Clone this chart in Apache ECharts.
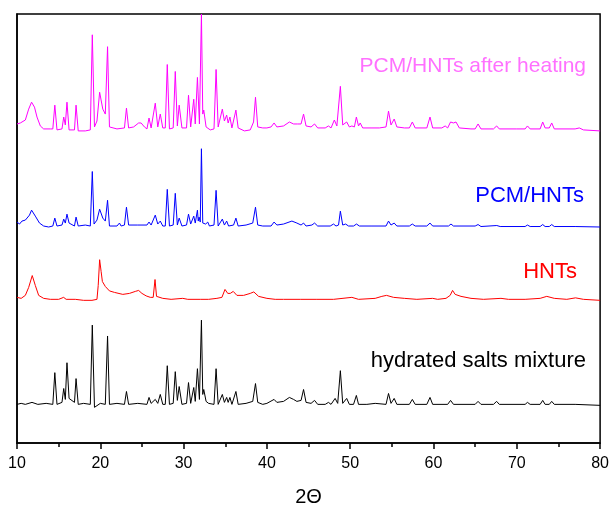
<!DOCTYPE html>
<html>
<head>
<meta charset="utf-8">
<script src="https://cdn.jsdelivr.net/npm/echarts@6/dist/echarts.min.js"></script>
<style>html,body{margin:0;padding:0;background:#fff}#c{width:612px;height:512px}</style>
</head>
<body>
<div id="c"></div>
<script>
// 2-theta tick labels
var xTicks = [10, 20, 30, 40, 50, 60, 70, 80];
var seriesNames = ['hydrated salts mixture', 'HNTs', 'PCM/HNTs', 'PCM/HNTs after heating'];
// vertical stacking offsets (arbitrary intensity units)
var offsets = [39, 145, 219, 317];

// [2theta, relative intensity]
var saltsMixture = [[10,0],[10.5,1],[11,0],[11.8,2],[12.5,0],[13.5,1],[14.3,0],[14.54,32],[14.8,0],[15.4,2],[15.61,16],[15.8,5],[16.0,42],[16.25,6],[16.9,2],[17.09,26],[17.35,0],[18.0,1],[18.8,0],[19.04,80],[19.3,-3],[20.0,1],[20.6,0],[20.87,69],[21.1,0],[22.0,1],[22.9,0],[23.14,13],[23.4,0],[24.5,1],[25.6,0],[25.85,7],[26.1,1],[26.6,5],[26.9,1],[27.2,10],[27.5,0],[27.8,0],[28.04,39],[28.3,0],[28.75,1],[29.0,33],[29.25,4],[29.47,18],[29.8,0],[30.35,1],[30.59,22],[30.85,1],[31.22,17],[31.4,3],[31.66,36],[31.9,5],[32.14,85],[32.3,10],[32.42,15],[32.7,3],[33.0,1],[33.65,0],[33.9,36],[34.15,0],[34.65,10],[34.9,2],[35.17,7],[35.35,2],[35.56,7],[35.8,0],[36.28,13],[36.55,0],[37.5,1],[38.3,3],[38.63,21],[38.9,2],[39.5,0],[40.0,1],[40.86,5],[41.2,2],[42.0,3],[42.7,7],[43.2,5],[43.6,3],[44.1,4],[44.4,15],[44.7,2],[45.3,1],[45.72,4],[46.1,0],[47.0,0],[47.39,2],[47.7,0],[48.19,6],[48.5,1],[48.82,34],[49.1,1],[49.58,6],[49.9,0],[50.4,0],[50.74,9],[51.0,0],[52,0],[53,1],[54.3,0],[54.6,11],[54.9,1],[55.28,6],[55.6,0],[57.1,0],[57.46,5],[57.8,0],[59.2,0],[59.58,7],[59.9,0],[61.7,0],[62.05,4],[62.4,0],[65.0,0],[65.35,3],[65.7,0],[67.2,0],[67.58,3],[67.9,0],[71.0,0],[71.28,2],[71.6,0],[72.8,0],[73.11,4],[73.4,0],[73.9,0],[74.19,3],[74.5,0],[77,0],[80,-1]];

var hnts = [[10,2],[10.5,1],[11.0,4],[11.4,12],[11.83,24],[12.2,14],[12.6,4],[13.2,1],[14,0],[15,0],[15.6,2],[15.9,0],[17,0],[18,-1],[19.0,-1],[19.6,0],[19.75,14],[19.92,40],[20.1,28],[20.25,18],[20.6,13],[21.1,8.5],[21.7,7],[22.7,5],[23.5,6],[24.2,8],[24.6,9],[25.0,6],[25.5,3.5],[26.0,2],[26.35,2],[26.57,20],[26.75,3],[27.5,1],[28.5,0],[29.9,1],[30.5,0],[32,0],[33,0],[34,1],[34.6,2],[34.97,10],[35.3,6],[35.6,6],[35.96,8],[36.4,4],[37.2,4],[38.0,6],[38.43,7.5],[39.0,3],[40.0,1],[41,0],[42,0],[44,0],[46,0],[48,0],[50.2,2],[51,0],[53,1],[53.8,3],[54.36,4],[55.2,2],[56.5,1],[58,0],[59.9,1],[60.5,0],[61.5,1],[62.0,4],[62.29,9],[62.6,5],[63.3,3],[64.5,1],[66,0],[68.1,1],[69,0],[71,0],[72.8,1],[73.6,3],[74.5,1],[76,0],[77.05,1.5],[78,0],[80,-1]];

var pcmHnts = [[10,4],[10.3,2],[10.6,5],[11.0,6],[11.5,11],[11.75,16],[12.2,10],[12.7,3],[13.2,0],[13.8,-1],[14.3,0],[14.54,8],[14.8,0],[15.4,1],[15.61,7],[15.8,3],[16.0,12],[16.25,3],[16.9,0],[17.09,9],[17.35,0],[18.2,1],[18.8,0],[19.04,55],[19.25,2],[19.6,6],[19.92,17],[20.3,8],[20.6,5],[20.87,26],[21.1,0],[22.0,0],[22.3,3],[22.5,0],[22.9,1],[23.14,19],[23.4,1],[24.5,1],[25.6,1],[25.85,4],[26.1,1],[26.6,11],[26.9,2],[27.2,5],[27.5,0],[27.8,0],[28.04,37],[28.3,0],[28.75,1],[29.0,33],[29.25,1],[29.47,8],[29.8,0],[30.35,1],[30.59,12],[30.85,2],[31.22,10],[31.4,3],[31.66,16],[31.76,5],[31.86,9],[32.0,4],[32.14,78],[32.3,3],[32.42,5],[32.65,2],[32.9,4],[33.1,0],[33.65,1],[33.9,36],[34.15,0],[34.65,7],[34.9,1],[35.17,5],[35.4,0],[36.0,1],[36.28,8],[36.55,0],[37.5,1],[38.3,3],[38.63,19],[38.9,1],[39.5,0],[40.5,0],[40.86,4],[41.2,1],[42,2],[43.0,5],[43.6,3],[44.1,1],[44.4,3],[44.7,0],[45.4,1],[45.72,3],[46.1,0],[47.6,0],[48.0,2],[48.3,0],[48.6,1],[48.82,15],[49.1,1],[49.45,2],[49.8,0],[50.4,0],[50.76,2],[51.1,0],[52.5,0],[54.3,0],[54.6,5],[54.9,1],[55.28,3],[55.6,0],[57.1,0],[57.46,2],[57.8,0],[59.2,0],[59.58,3],[59.9,0],[61.8,0],[62.1,2],[62.4,0],[65.0,0],[65.35,1.5],[65.7,-0.5],[67.6,0.5],[68,-0.5],[71.0,-0.5],[71.28,1],[71.6,-0.5],[72.8,-0.5],[73.11,1.5],[73.4,-0.5],[73.9,-0.5],[74.19,1.5],[74.5,-0.5],[77,-0.5],[80,-1]];

var pcmHntsHeated = [[10,5],[10.2,3],[10.4,6],[10.6,4],[11.0,9],[11.4,20],[11.75,27],[12.1,22],[12.4,12],[12.8,3],[13.2,0],[14.0,0],[14.3,0],[14.54,24],[14.8,-1],[15.4,0],[15.61,12],[15.8,4],[16.0,27],[16.25,-1],[16.9,-1],[17.09,24],[17.35,-2],[18.2,-2],[18.8,-1],[19.04,95],[19.3,2],[19.6,8],[19.92,37],[20.3,20],[20.6,15],[20.87,83],[21.1,2],[22.0,0],[22.9,1],[23.14,21],[23.4,1],[24.0,2],[24.6,6],[24.9,6],[25.3,2],[25.6,0],[25.85,11],[26.1,1],[26.6,26],[26.9,2],[27.2,15],[27.5,1],[27.8,1],[28.04,65],[28.3,0],[28.75,1],[29.0,58],[29.25,3],[29.47,24],[29.8,1],[30.35,1],[30.59,34],[30.85,2],[31.22,30],[31.4,5],[31.66,52],[31.9,5],[32.14,116],[32.3,15],[32.42,19],[32.7,2],[33.2,-1],[33.65,0],[33.9,60],[34.15,2],[34.65,20],[34.9,8],[35.17,14],[35.35,6],[35.56,12],[35.8,1],[36.28,19],[36.55,1],[37.3,-2],[38.0,-1],[38.4,7],[38.63,32],[38.9,2],[39.5,1],[40.0,1],[40.5,2],[40.86,6],[41.2,2],[42.0,3],[42.7,7],[43.2,5],[43.7,5],[44.1,5],[44.4,15],[44.7,3],[45.3,2],[45.72,5],[46.1,1],[47.0,1],[47.39,3],[47.7,1],[48.1,9],[48.4,3],[48.82,43],[49.1,4],[49.58,7],[49.9,2],[50.2,3],[50.5,2],[50.74,12],[51.0,3],[51.2,6],[51.5,1],[52.5,1],[53.5,1],[54.3,2],[54.6,18],[54.9,4],[55.28,10],[55.6,2],[56.5,1],[57.1,1],[57.46,7],[57.8,1],[59.2,1],[59.58,12],[59.9,1],[61.0,1],[61.4,3],[61.7,1],[62.05,7],[62.4,6],[62.7,7],[63.1,1],[64.5,0],[65.0,0],[65.35,5],[65.7,0],[67.2,0],[67.58,3],[67.9,0],[70,0],[71.0,0],[71.28,3],[71.6,0],[72.8,0],[73.11,7],[73.4,1],[73.9,1],[74.19,6],[74.5,0],[77,0],[77.5,1],[78,-1],[80,-2]];

var allData = [saltsMixture, hnts, pcmHnts, pcmHntsHeated];
var lineColors = ['#000000', '#ff0000', '#0000ff', '#ff00ff'];
var labelColors = ['#000000', '#ff0000', '#0000ff', '#ff70ff'];
var FONT = 'Liberation Sans, Arial, sans-serif';

var chart = echarts.init(document.getElementById('c'), null, {renderer: 'canvas'});

var series = allData.map(function (d, i) {
  return {
    name: seriesNames[i],
    type: 'line',
    data: d.map(function (p) { return [p[0], p[1] + offsets[i]]; }),
    showSymbol: false,
    symbol: 'none',
    lineStyle: {color: lineColors[i], width: 1},
    animation: false,
    z: 3
  };
});

var labelPos = [
  {right: 26, y: 361, size: 22},
  {right: 35, y: 272, size: 22},
  {right: 28, y: 195.5, size: 22},
  {right: 26, y: 66.7, size: 21}
];

var option = {
  backgroundColor: '#ffffff',
  animation: false,
  grid: {left: 17, right: 9, top: 14, bottom: 65, show: true, borderColor: '#000', borderWidth: 1.5, backgroundColor: 'transparent'},
  xAxis: {
    type: 'value', min: 10, max: 80, interval: 10,
    name: '2\u0398', nameLocation: 'middle', nameGap: 44,
    nameTextStyle: {fontSize: 20, color: '#000', fontFamily: FONT},
    axisLine: {show: true, lineStyle: {color: '#000', width: 1.5}},
    axisTick: {show: true, inside: false, length: 6, lineStyle: {color: '#000', width: 1.5}},
    minorTick: {show: true, splitNumber: 2, length: 4, lineStyle: {color: '#000', width: 1.5}},
    axisLabel: {fontSize: 16, color: '#000', margin: 13, fontFamily: FONT,
      formatter: function (v) { return xTicks.indexOf(v) >= 0 ? String(v) : ''; }},
    splitLine: {show: false}
  },
  yAxis: {
    type: 'value', min: 0, max: 433,
    axisLine: {show: true, lineStyle: {color: '#000', width: 1.5}},
    axisTick: {show: false}, axisLabel: {show: false}, splitLine: {show: false}
  },
  graphic: labelPos.map(function (lp, i) {
    return {
      type: 'text', right: lp.right, top: lp.y - lp.size / 2, z: 10,
      style: {text: seriesNames[i], fill: labelColors[i], font: lp.size + 'px ' + FONT}
    };
  }),
  series: series
};
chart.setOption(option);
</script>
</body>
</html>
